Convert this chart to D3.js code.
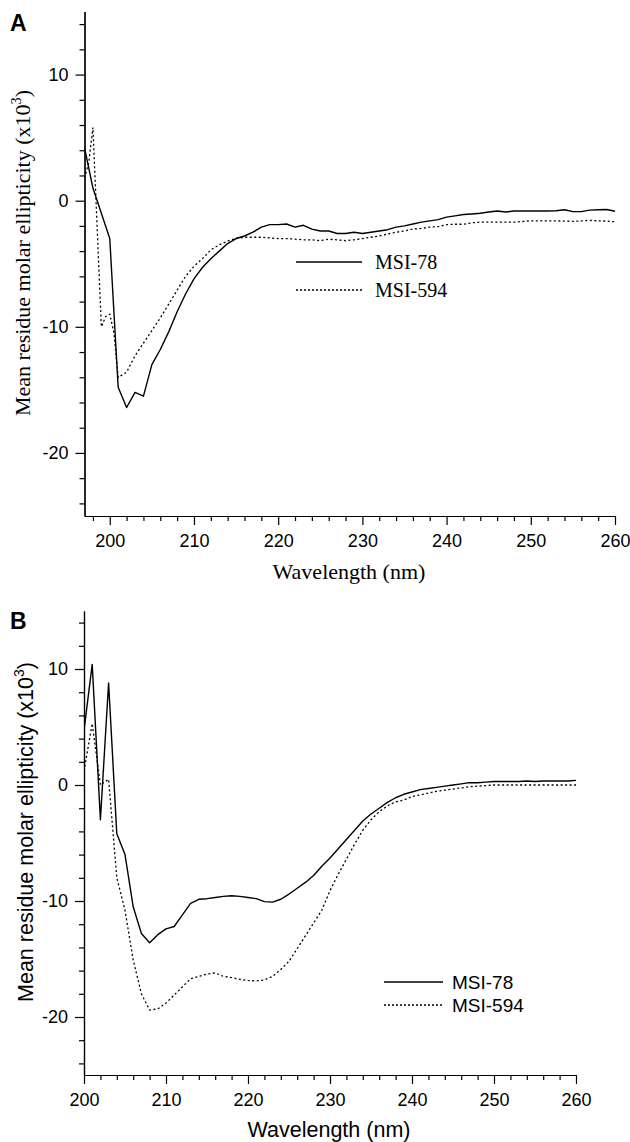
<!DOCTYPE html>
<html>
<head>
<meta charset="utf-8">
<script src="https://cdn.jsdelivr.net/npm/d3@7"></script>
<style>
  body { margin: 0; background: #fff; }
  svg { display: block; }
</style>
</head>
<body>
<svg id="chart" width="630" height="1142"></svg>
<script>
// Panel A data (wavelength nm, ellipticity x10^3)
const wlA78 = [197,198,199,200,201,202,203,204,205,206,207,208,209,210,211,212,213,214,215,216,217,218,219,220,221,222,223,224,225,226,227,228,229,230,231,232,233,234,235,236,237,238,239,240,241,242,243,244,245,246,247,248,249,250,251,252,253,254,255,256,257,258,259,260];
const valA78 = [4.2,1.0,-1.0,-3.0,-14.8,-16.4,-15.2,-15.5,-13.0,-11.8,-10.4,-8.8,-7.4,-6.2,-5.3,-4.6,-4.0,-3.4,-3.0,-2.8,-2.5,-2.1,-1.9,-1.9,-1.85,-2.1,-1.95,-2.25,-2.4,-2.4,-2.6,-2.6,-2.5,-2.6,-2.5,-2.4,-2.3,-2.1,-2.0,-1.85,-1.7,-1.6,-1.5,-1.3,-1.2,-1.1,-1.05,-1.0,-0.9,-0.82,-0.9,-0.82,-0.82,-0.82,-0.82,-0.82,-0.8,-0.72,-0.87,-0.87,-0.75,-0.72,-0.7,-0.84];

const wlA594 = [197,197.5,198,199,199.5,200,200.5,201,202,203,204,205,206,207,208,209,210,211,212,213,214,215,216,217,218,219,220,221,222,223,224,225,226,227,228,229,230,231,232,233,234,235,236,237,238,239,240,241,242,243,244,245,246,247,248,249,250,251,252,253,254,255,256,257,258,259,260];
const valA594 = [1.8,3.0,5.8,-10.0,-9.2,-9.0,-10.5,-14.0,-13.6,-12.3,-11.3,-10.3,-9.3,-8.2,-7.1,-6.0,-5.2,-4.6,-3.9,-3.5,-3.2,-3.0,-2.9,-2.9,-2.9,-2.95,-3.0,-3.0,-3.05,-3.1,-3.1,-3.17,-3.06,-3.1,-3.17,-3.1,-3.0,-2.9,-2.8,-2.65,-2.5,-2.4,-2.25,-2.2,-2.1,-2.05,-1.9,-1.87,-1.87,-1.75,-1.7,-1.7,-1.7,-1.7,-1.7,-1.65,-1.6,-1.6,-1.6,-1.6,-1.62,-1.64,-1.6,-1.56,-1.6,-1.62,-1.67];

// Panel B data
const wlB = [200,201,202,203,204,205,206,207,208,209,210,211,212,213,214,215,216,217,218,219,220,221,222,223,224,225,226,227,228,229,230,231,232,233,234,235,236,237,238,239,240,241,242,243,244,245,246,247,248,249,250,251,252,253,254,255,256,257,258,259,260];
const valB78 = [4.7,10.4,-3.0,8.8,-4.2,-6.0,-10.5,-12.8,-13.6,-12.9,-12.4,-12.2,-11.2,-10.2,-9.85,-9.8,-9.7,-9.6,-9.55,-9.6,-9.7,-9.8,-10.05,-10.1,-9.85,-9.4,-8.9,-8.4,-7.8,-7.0,-6.3,-5.5,-4.7,-3.9,-3.1,-2.5,-2.0,-1.5,-1.1,-0.8,-0.6,-0.4,-0.3,-0.2,-0.1,0.0,0.1,0.2,0.2,0.25,0.3,0.3,0.3,0.3,0.35,0.3,0.35,0.35,0.35,0.35,0.4];
const valB594 = [1.2,5.3,0.0,0.5,-8.0,-10.8,-15.1,-18.0,-19.4,-19.3,-18.8,-18.1,-17.4,-16.7,-16.5,-16.3,-16.2,-16.5,-16.6,-16.75,-16.85,-16.9,-16.8,-16.5,-15.9,-15.2,-14.1,-13.0,-11.9,-10.8,-9.1,-7.7,-6.4,-5.1,-3.9,-3.0,-2.3,-1.8,-1.45,-1.3,-1.0,-0.85,-0.7,-0.55,-0.45,-0.35,-0.25,-0.15,-0.1,-0.05,0,0,0,0,0,0,0,0,0,0,0];

// Ticks
const yMajor = [10, 0, -10, -20];
const yMinor = [14,12,8,6,4,2,-2,-4,-6,-8,-12,-14,-16,-18,-22,-24];
const xMajor = [200, 210, 220, 230, 240, 250, 260];
const xMinorA = [198,202,204,206,208,212,214,216,218,222,224,226,228,232,234,236,238,242,244,246,248,252,254,256,258];
const xMinorB = [202,204,206,208,212,214,216,218,222,224,226,228,232,234,236,238,242,244,246,248,252,254,256,258];

const seriesNames = ['MSI-78', 'MSI-594'];

const SANS = '"Liberation Sans", Arial, Helvetica, sans-serif';
const SERIF = '"Liberation Serif", "Times New Roman", serif';

const svg = d3.select('#chart');

function drawPanel(p) {
    const g = svg.append('g');
    const x = d3.scaleLinear().domain(p.xDomain).range(p.xRange);
    const y = d3.scaleLinear().domain([-25, 15]).range(p.yRange);

    // panel letter
    g.append('text')
        .attr('x', 10).attr('y', p.letterY)
        .attr('font-family', SANS).attr('font-weight', 'bold').attr('font-size', 23)
        .text(p.letter);

    // axes
    const styleAxis = sel => {
        sel.select('.domain').attr('stroke', '#000').attr('stroke-width', 1.2);
        sel.selectAll('.tick line').attr('stroke', '#000').attr('stroke-width', 1.2);
        sel.selectAll('.tick text').attr('fill', '#000')
            .attr('font-family', SANS).attr('font-size', 18);
    };

    const yMinorAxis = g.append('g').attr('transform', `translate(${p.xRange[0]},0)`)
        .call(d3.axisLeft(y).tickValues(yMinor).tickSize(5).tickSizeOuter(0).tickFormat(''));
    styleAxis(yMinorAxis);
    const yAxis = g.append('g').attr('transform', `translate(${p.xRange[0]},0)`)
        .call(d3.axisLeft(y).tickValues(yMajor).tickSize(9).tickSizeOuter(0).tickPadding(7)
            .tickFormat(d => String(d)));
    styleAxis(yAxis);

    const xMinorAxis = g.append('g').attr('transform', `translate(0,${p.yRange[0]})`)
        .call(d3.axisBottom(x).tickValues(p.xMinor).tickSize(5).tickSizeOuter(0).tickFormat(''));
    styleAxis(xMinorAxis);
    const xAxis = g.append('g').attr('transform', `translate(0,${p.yRange[0]})`)
        .call(d3.axisBottom(x).tickValues(xMajor).tickSize(9).tickSizeOuter(0).tickPadding(6));
    styleAxis(xAxis);
    xAxis.selectAll('.tick text').attr('dy', null).attr('y', p.xLabelBase - p.yRange[0]);

    // axis titles
    g.append('text')
        .attr('x', p.xTitleX).attr('y', p.xTitleY)
        .attr('text-anchor', 'middle')
        .attr('font-family', p.titleFont).attr('font-size', p.titleSize)
        .text('Wavelength (nm)');

    const yt = g.append('text')
        .attr('transform', `translate(${p.yTitleX},${p.yTitleY}) rotate(-90)`)
        .attr('text-anchor', 'middle')
        .attr('font-family', p.titleFont).attr('font-size', p.titleSize);
    yt.append('tspan').text(p.yTitleText);
    yt.append('tspan').attr('font-size', p.titleSize * 0.65).attr('dy', -p.titleSize * 0.4).text('3');
    yt.append('tspan').attr('dy', p.titleSize * 0.4).text(')');

    // lines
    const line = d3.line().x(d => x(d[0])).y(d => y(d[1]));
    const clipId = 'clip' + p.letter;
    g.append('clipPath').attr('id', clipId).append('rect')
        .attr('x', p.xRange[0]).attr('y', p.yRange[1])
        .attr('width', p.xRange[1] - p.xRange[0] + 1).attr('height', p.yRange[0] - p.yRange[1]);

    g.append('path')
        .datum(d3.zip(p.wl78, p.val78))
        .attr('clip-path', `url(#${clipId})`)
        .attr('fill', 'none').attr('stroke', '#000').attr('stroke-width', 1.4)
        .attr('stroke-linejoin', 'round')
        .attr('d', line);

    g.append('path')
        .datum(d3.zip(p.wl594, p.val594))
        .attr('clip-path', `url(#${clipId})`)
        .attr('fill', 'none').attr('stroke', '#000').attr('stroke-width', 1.3)
        .attr('stroke-dasharray', '2,2.5')
        .attr('d', line);

    // legend
    seriesNames.forEach((name, i) => {
        const ly = p.legendY + i * p.legendGap;
        g.append('line')
            .attr('x1', p.legendX).attr('x2', p.legendX + p.legendLen)
            .attr('y1', ly).attr('y2', ly)
            .attr('stroke', '#000').attr('stroke-width', i === 0 ? 1.4 : 1.3)
            .attr('stroke-dasharray', i === 0 ? null : '2,2');
        g.append('text')
            .attr('x', p.legendX + p.legendLen + p.legendTextGap).attr('y', ly + 6.5)
            .attr('font-family', p.titleFont).attr('font-size', p.legendSize)
            .text(name);
    });
}

drawPanel({
    letter: 'A', letterY: 31,
    xDomain: [197, 260], xRange: [84.5, 615], yRange: [516, 11.5],
    xMinor: xMinorA, xLabelBase: 547,
    titleFont: SERIF, titleSize: 22,
    xTitleX: 349, xTitleY: 579,
    yTitleX: 30, yTitleY: 253, yTitleText: 'Mean residue molar  ellipticity (x10',
    wl78: wlA78, val78: valA78, wl594: wlA594, val594: valA594,
    legendX: 296, legendY: 262, legendGap: 28, legendLen: 66, legendTextGap: 13, legendSize: 20
});

drawPanel({
    letter: 'B', letterY: 629,
    xDomain: [200, 260], xRange: [84, 576], yRange: [1075, 611],
    xMinor: xMinorB, xLabelBase: 1106,
    titleFont: SANS, titleSize: 21.5,
    xTitleX: 329, xTitleY: 1137,
    yTitleX: 33, yTitleY: 832, yTitleText: 'Mean residue molar ellipticity (x10',
    wl78: wlB, val78: valB78, wl594: wlB, val594: valB594,
    legendX: 384, legendY: 982, legendGap: 23, legendLen: 59, legendTextGap: 9, legendSize: 19
});
</script>
</body>
</html>
